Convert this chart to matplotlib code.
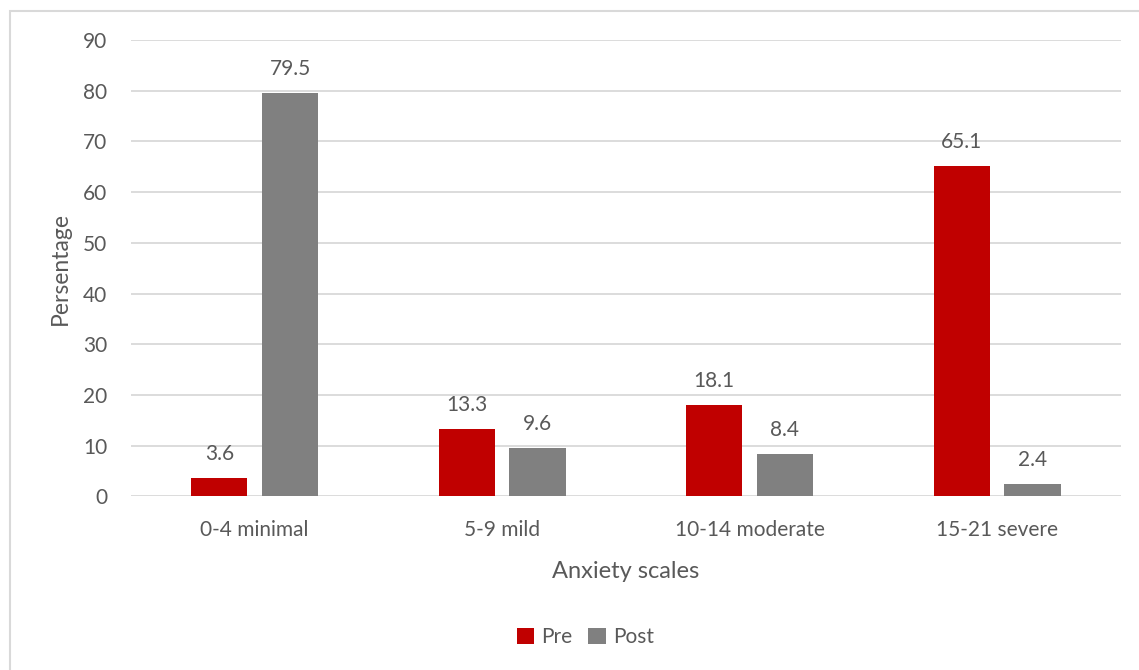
import numpy as np
import matplotlib.pyplot as plt
from matplotlib.patches import Rectangle

categories = ['0-4 minimal', '5-9 mild', '10-14 moderate', '15-21 severe']
pre = [3.6, 13.3, 18.1, 65.1]
post = [79.5, 9.6, 8.4, 2.4]

RED = '#C00000'
GREY = '#808080'
TXT = '#595959'
GRID = '#D9D9D9'

plt.rcParams['font.family'] = ['Lato', 'DejaVu Sans']

fig = plt.figure(figsize=(11.39, 6.70), dpi=100)
ax = fig.add_axes([0.115, 0.259, 0.869, 0.6813])

x = np.arange(len(categories))
w = 0.227
off = 0.143
b1 = ax.bar(x - off, pre, w, color=RED, label='Pre', zorder=3)
b2 = ax.bar(x + off, post, w, color=GREY, label='Post', zorder=3)

for bars, vals in ((b1, pre), (b2, post)):
    for r, v in zip(bars, vals):
        ax.annotate(f'{v:.1f}', (r.get_x() + r.get_width() / 2, v),
                    xytext=(0, 10), textcoords='offset points',
                    ha='center', va='bottom', fontsize=15, color=TXT)

ax.set_xlim(-0.5, 3.5)
ax.set_ylim(0, 90)
ax.set_yticks(range(0, 91, 10))
ax.set_xticks(x)
ax.set_xticklabels(categories)
ax.tick_params(axis='both', length=0, labelsize=15, labelcolor=TXT)
ax.tick_params(axis='y', pad=17)
ax.tick_params(axis='x', pad=17)
ax.grid(axis='y', color=GRID, linewidth=1.3, zorder=0)
for s in ax.spines.values():
    s.set_visible(False)

ax.set_xlabel('Anxiety scales', fontsize=17, color=TXT, labelpad=15)
ax.set_ylabel('Persentage', fontsize=16.5, color=TXT, labelpad=9)

fig.legend(loc='center', bbox_to_anchor=(0.514, 0.049), ncol=2, frameon=False,
           fontsize=15, labelcolor=TXT, handlelength=0.85, handleheight=0.85,
           handletextpad=0.35, columnspacing=0.75)

# chart area outline
fig.patches.append(Rectangle((9.5 / 1139, -0.05), 1.1, 1.05 - 10.5 / 670,
                             transform=fig.transFigure, fill=False,
                             edgecolor=GRID, linewidth=1.5))

fig.savefig('out.png', dpi=100)
